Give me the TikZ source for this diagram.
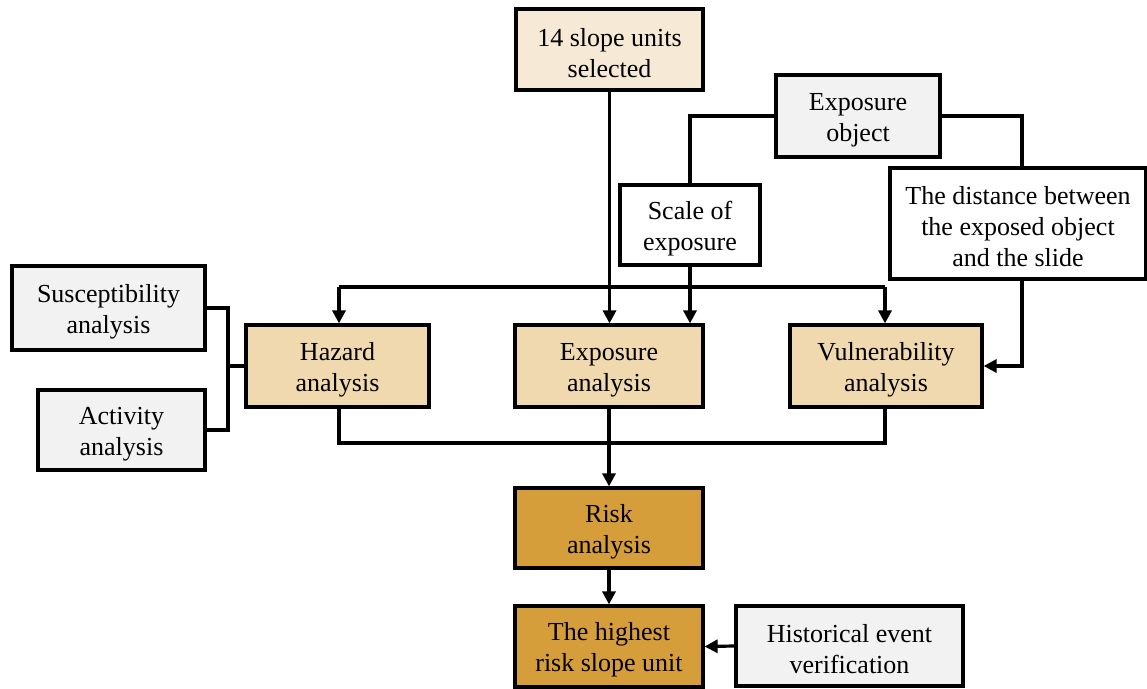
\documentclass[tikz,border=0pt]{standalone}
\usepackage{fontspec}
\setmainfont{Liberation Serif}
\usetikzlibrary{arrows.meta}
\definecolor{cream}{HTML}{F6E9D5}
\definecolor{tan}{HTML}{F0D9AE}
\definecolor{gold}{HTML}{D69E3A}
\definecolor{lgray}{HTML}{F2F2F2}
\tikzset{
  box/.style={draw=black, line width=3.2pt, align=center, inner sep=0pt,
    font=\fontsize{26}{31}\selectfont},
  conn/.style={draw=black, line width=3.2pt, line join=miter},
  arr/.style={conn, -{Triangle[length=13pt,width=13pt]}},
}
\newcommand{\bx}[7]{% name, x1, y1, x2, y2, fill, text
  \node[box, fill=#6, minimum width=#4pt-#2pt, minimum height=#5pt-#3pt] (#1) at ({(#2+#4)/2},{(#3+#5)/2}) {\rule{0pt}{25pt}#7};}
\begin{document}
\begin{tikzpicture}[x=1pt,y=-1pt]
\useasboundingbox (0,0) rectangle (1147,688);
\bx{sel}{516}{9}{703}{90}{cream}{14 slope units\\selected}
\bx{eo}{776}{75}{940}{157}{lgray}{Exposure\\object}
\bx{sc}{620}{185}{760}{265}{white}{Scale of\\exposure}
\bx{dist}{890}{168}{1146}{279}{white}{The distance between\\the exposed object\\and the slide}
\bx{sus}{12}{266}{205}{350}{lgray}{Susceptibility\\analysis}
\bx{act}{38}{390}{205}{470}{lgray}{Activity\\analysis}
\bx{haz}{246}{325}{429}{407}{tan}{Hazard\\analysis}
\bx{exa}{515}{325}{703}{407}{tan}{Exposure\\analysis}
\bx{vul}{790}{325}{982}{407}{tan}{Vulnerability\\analysis}
\bx{risk}{515}{488}{703}{568}{gold}{Risk\\analysis}
\bx{hi}{515}{606}{703}{687}{gold}{The highest\\risk slope unit}
\bx{his}{736}{606}{963}{686}{lgray}{Historical event\\verification}

\coordinate (hz) at (339,287);
\coordinate (vz) at (885,287);
\coordinate (lj) at (228,366);
\coordinate (bl) at (339,443);
\coordinate (br) at (885,443);
\coordinate (dx) at (1022,0);

\draw[arr] (sel.south) -- (sel.south |- exa.north);
\draw[conn] (eo.west) -| (sc.north);
\draw[conn] (eo.east) -| (dist.north -| dx);
\draw[arr] (sc.south) -- (sc.south |- exa.north);
\draw[arr] (dist.south -| dx) |- (vul.east);
\draw[conn] (hz) -- (vz);
\draw[arr] (hz) -- (hz |- haz.north);
\draw[arr] (vz) -- (vz |- vul.north);
\draw[conn] (sus.east) -| (lj) |- (act.east);
\draw[conn] (lj) -- (haz.west);
\draw[conn] (haz.south -| bl) -- (bl) -- (br) -- (vul.south -| br);
\draw[arr] (exa.south) -- (risk.north);
\draw[arr] (risk.south) -- (hi.north);
\draw[arr] (his.west) -- (hi.east);
\end{tikzpicture}
\end{document}
